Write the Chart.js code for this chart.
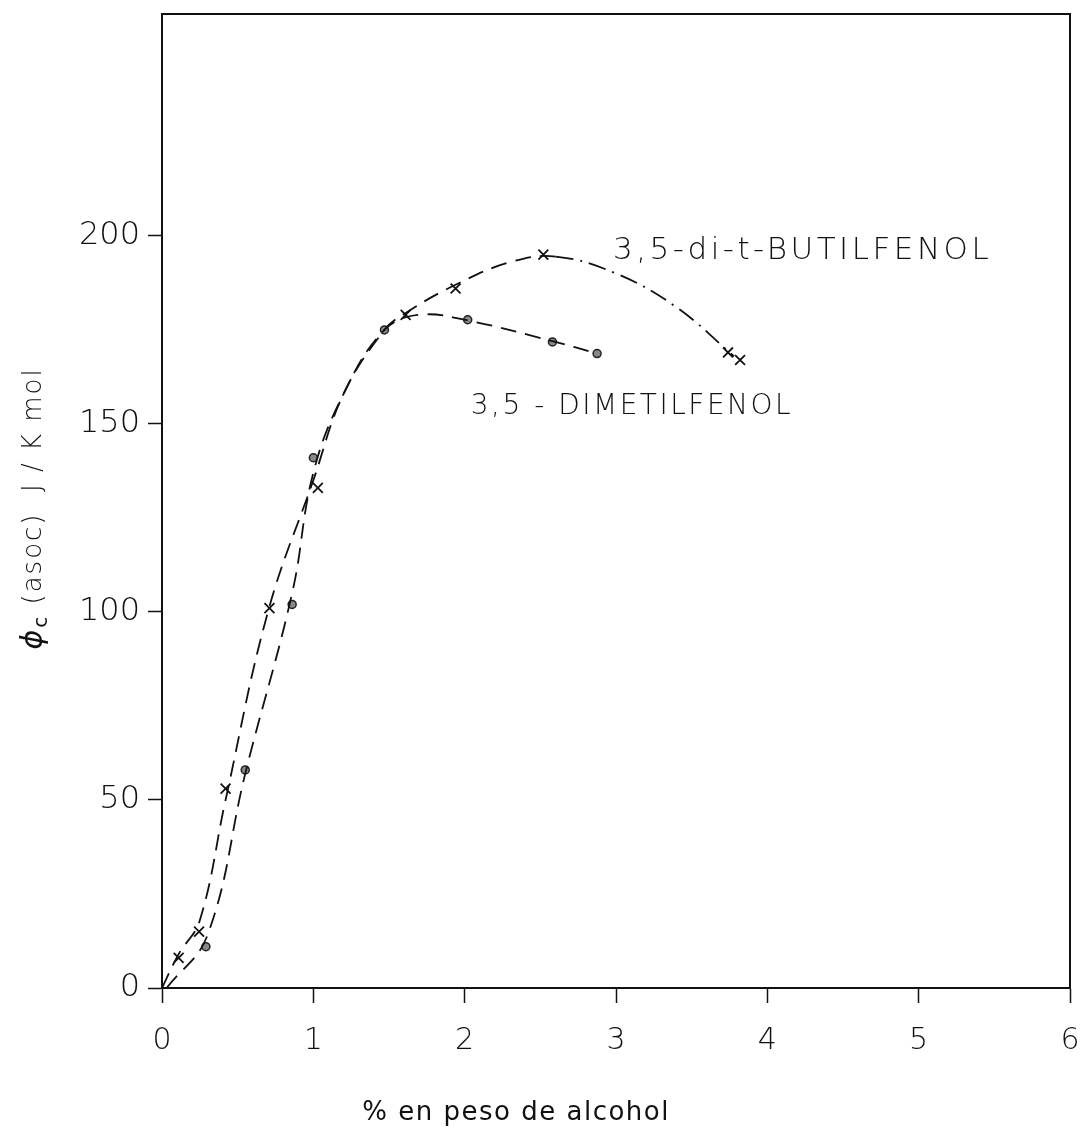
<!DOCTYPE html>
<html>
<head>
<meta charset="utf-8">
<title>Capacidad calorífica de asociación</title>
<script src="https://cdn.jsdelivr.net/npm/chart.js@4.4.1/dist/chart.umd.min.js"></script>
<style>
    html, body { margin: 0; padding: 0; background: #fff; }
    #wrap { width: 1083px; height: 1133px; position: relative; }
</style>
</head>
<body>
<div id="wrap"><canvas id="phiChart"></canvas></div>
<script>
const butilX = [0.11, 0.245, 0.42, 0.71, 1.03, 1.61, 1.94, 2.52, 3.74, 3.82];
const butilY = [8, 15, 53, 101, 133, 179, 186, 195, 169, 167];
const dimetilX = [0.29, 0.55, 0.86, 1.0, 1.47, 2.02, 2.58, 2.875];
const dimetilY = [11, 58, 102, 141, 175, 177.7, 171.8, 168.7];

// dashed curves as drawn by hand in the figure
const butilCurveX = [0, 0.11, 0.25, 0.42, 0.7, 1.0, 1.2, 1.47, 1.61, 1.94, 2.3, 2.6, 3.0, 3.4, 3.78];
const butilCurveY = [0, 9, 18, 50, 100, 135, 158, 175, 179.5, 187, 193, 194.5, 190, 181, 168];
const dimetilCurveX = [0.03, 0.3, 0.55, 0.86, 1.0, 1.2, 1.47, 1.7, 2.02, 2.58, 2.875];
const dimetilCurveY = [0, 14, 57, 105, 137, 158, 175, 179, 177.5, 172, 168.7];

const xTicks = [0, 1, 2, 3, 4, 5, 6];
const yTicks = [0, 50, 100, 150, 200];

const xLabel = '% en peso de alcohol';
const yLabelMain = 'ϕ';
const yLabelSub = 'c';
const yLabelRest = ' (asoc)  J / K mol';
const seriesNames = ['3,5-di-t-BUTILFENOL', '3,5 - DIMETILFENOL'];
const namePos = [[2.98, 196], [2.04, 154.5]];

const FONT = '"DejaVu Sans", sans-serif';

function toPoints(xs, ys) {
    return xs.map((x, i) => ({ x: x, y: ys[i] }));
}

const textPlugin = {
    id: 'texts',
    afterDraw(chart) {
        const ctx = chart.ctx;
        const xs = chart.scales.x;
        const ys = chart.scales.y;
        const area = chart.chartArea;
        ctx.save();
        ctx.fillStyle = '#111';

        // curve names
        ctx.textBaseline = 'middle';
        ctx.textAlign = 'left';
        ctx.letterSpacing = '3.5px';
        ctx.font = '200 31px ' + FONT;
        ctx.fillText(seriesNames[0], xs.getPixelForValue(namePos[0][0]), ys.getPixelForValue(namePos[0][1]));
        ctx.letterSpacing = '2.5px';
        ctx.font = '200 28px ' + FONT;
        ctx.fillText(seriesNames[1], xs.getPixelForValue(namePos[1][0]), ys.getPixelForValue(namePos[1][1]));

        // x axis title
        ctx.letterSpacing = '1.5px';
        ctx.font = '26px ' + FONT;
        ctx.textAlign = 'center';
        ctx.fillText(xLabel, xs.getPixelForValue(2.34), area.bottom + 125);

        // y axis title, rotated, read from bottom to top
        ctx.translate(area.left - 128, ys.getPixelForValue(90));
        ctx.rotate(-Math.PI / 2);
        ctx.textAlign = 'left';
        ctx.letterSpacing = '2px';
        ctx.font = 'italic 30px ' + FONT;
        const mainW = ctx.measureText(yLabelMain).width;
        ctx.fillText(yLabelMain, 0, 0);
        ctx.font = '20px ' + FONT;
        ctx.fillText(yLabelSub, mainW, 8);
        const subW = ctx.measureText(yLabelSub).width;
        ctx.font = '200 26px ' + FONT;
        ctx.fillText(yLabelRest, mainW + subW, 0);
        ctx.restore();
    }
};

const ctx = document.getElementById('phiChart').getContext('2d');
new Chart(ctx, {
    type: 'scatter',
    data: {
        datasets: [
            {
                label: 'butil curva',
                data: toPoints(butilCurveX, butilCurveY),
                showLine: true,
                tension: 0.4,
                borderColor: '#111',
                borderWidth: 1.8,
                borderDash: [16, 9],
                pointRadius: 0,
                segment: {
                    borderDash: c => c.p0.parsed.x >= 2.5 ? [18, 7, 2, 7] : undefined
                }
            },
            {
                label: 'dimetil curva',
                data: toPoints(dimetilCurveX, dimetilCurveY),
                showLine: true,
                tension: 0.4,
                borderColor: '#111',
                borderWidth: 1.8,
                borderDash: [16, 9],
                pointRadius: 0
            },
            {
                label: seriesNames[0],
                data: toPoints(butilX, butilY),
                pointStyle: 'crossRot',
                pointRadius: 7,
                borderColor: '#111',
                borderWidth: 1.8
            },
            {
                label: seriesNames[1],
                data: toPoints(dimetilX, dimetilY),
                pointStyle: 'circle',
                pointRadius: 4,
                backgroundColor: '#888',
                borderColor: '#222',
                borderWidth: 1.5
            }
        ]
    },
    options: {
        responsive: true,
        maintainAspectRatio: false,
        animation: false,
        layout: { padding: 0 },
        plugins: {
            legend: { display: false },
            tooltip: { enabled: false }
        },
        scales: {
            x: {
                type: 'linear',
                position: 'bottom',
                min: 0,
                max: 6,
                afterBuildTicks: s => { s.ticks = xTicks.map(v => ({ value: v })); },
                afterFit: s => { s.height = 145; s.paddingLeft = 0; s.paddingRight = 0; },
                ticks: {
                    color: '#111',
                    font: { family: FONT, size: 30, weight: '200' },
                    padding: 20
                },
                grid: { drawOnChartArea: false, drawTicks: true, tickLength: 15, color: '#111', tickWidth: 1.5 },
                border: { color: '#111', width: 2 }
            },
            xTop: {
                type: 'linear',
                position: 'top',
                min: 0,
                max: 6,
                ticks: { display: false },
                afterFit: s => { s.height = 14; s.paddingLeft = 0; s.paddingRight = 0; },
                grid: { display: false },
                border: { color: '#111', width: 2 }
            },
            y: {
                type: 'linear',
                position: 'left',
                min: 0,
                max: 259,
                afterBuildTicks: s => { s.ticks = yTicks.map(v => ({ value: v })); },
                afterFit: s => { s.width = 162; s.paddingTop = 0; s.paddingBottom = 0; },
                ticks: {
                    color: '#111',
                    font: { family: FONT, size: 32, weight: '200' },
                    padding: 8
                },
                grid: { drawOnChartArea: false, drawTicks: true, tickLength: 14, color: '#111', tickWidth: 1.5 },
                border: { color: '#111', width: 2 }
            },
            yRight: {
                type: 'linear',
                position: 'right',
                min: 0,
                max: 259,
                ticks: { display: false },
                afterFit: s => { s.width = 13; s.paddingTop = 0; s.paddingBottom = 0; },
                grid: { display: false },
                border: { color: '#111', width: 2 }
            }
        }
    },
    plugins: [textPlugin]
});
</script>
</body>
</html>
